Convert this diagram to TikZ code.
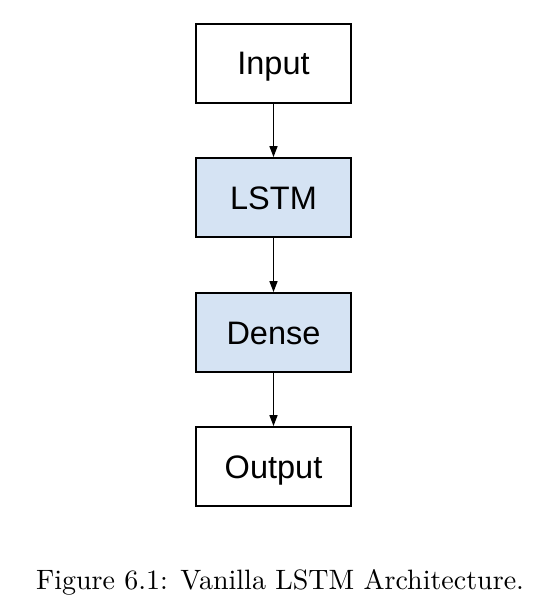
\documentclass[tikz,border=0pt]{standalone}
\usepackage{fontspec}
\newfontfamily\arialf{Liberation Sans}
\newfontfamily\capf{lmroman10-regular}[Extension=.otf]
\usetikzlibrary{arrows.meta}
\definecolor{boxblue}{HTML}{D5E3F3}
\begin{document}
\begin{tikzpicture}[x=1pt,y=-1pt,
  blk/.style={draw=black,line width=1.8pt,minimum width=155pt,minimum height=79pt,inner sep=0pt,text height=23pt,text depth=0pt,font=\arialf\fontsize{32.5}{36}\selectfont},
  conn/.style={line width=1.4pt,-{Triangle[width=8pt,length=11pt]}}]
\useasboundingbox (0,0) rectangle (552,612);
\node[blk,fill=white] (in) at (273.5,63.5) {Input};
\node[blk,fill=boxblue] (lstm) at (273.5,197.5) {LSTM};
\node[blk,fill=boxblue] (dense) at (273.5,332.5) {Dense};
\node[blk,fill=white] (out) at (273.5,466.5) {Output};
\draw[conn] (in) -- (lstm);
\draw[conn] (lstm) -- (dense);
\draw[conn] (dense) -- (out);
\node[font=\capf\fontsize{28}{32}\selectfont,inner sep=0pt,anchor=base] (cap) at (280,589) {Figure 6.1: Vanilla LSTM Architecture.};
\end{tikzpicture}
\end{document}
